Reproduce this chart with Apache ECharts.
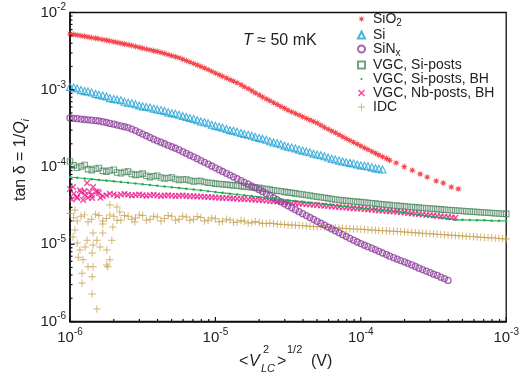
<!DOCTYPE html>
<html><head><meta charset="utf-8">
<script src="https://cdn.jsdelivr.net/npm/echarts@6/dist/echarts.min.js"></script>
<style>html,body{margin:0;padding:0;background:#fff}#c{width:522px;height:379px}</style>
</head><body><div id="c"></div>
<script>
// ---- data ----
// rms voltage grid (V), 40 points per decade
const vGrid = [
1.00e-6,1.06e-6,1.12e-6,1.19e-6,1.26e-6,1.33e-6,1.41e-6,1.50e-6,1.58e-6,1.68e-6,1.78e-6,1.88e-6,2.00e-6,2.11e-6,2.24e-6,2.37e-6,2.51e-6,2.66e-6,2.82e-6,2.99e-6,
3.16e-6,3.35e-6,3.55e-6,3.76e-6,3.98e-6,4.22e-6,4.47e-6,4.73e-6,5.01e-6,5.31e-6,5.62e-6,5.96e-6,6.31e-6,6.68e-6,7.08e-6,7.50e-6,7.94e-6,8.41e-6,8.91e-6,9.44e-6,
1.00e-5,1.06e-5,1.12e-5,1.19e-5,1.26e-5,1.33e-5,1.41e-5,1.50e-5,1.58e-5,1.68e-5,1.78e-5,1.88e-5,2.00e-5,2.11e-5,2.24e-5,2.37e-5,2.51e-5,2.66e-5,2.82e-5,2.99e-5,
3.16e-5,3.35e-5,3.55e-5,3.76e-5,3.98e-5,4.22e-5,4.47e-5,4.73e-5,5.01e-5,5.31e-5,5.62e-5,5.96e-5,6.31e-5,6.68e-5,7.08e-5,7.50e-5,7.94e-5,8.41e-5,8.91e-5,9.44e-5,
1.00e-4,1.06e-4,1.12e-4,1.19e-4,1.26e-4,1.33e-4,1.41e-4,1.50e-4,1.58e-4,1.68e-4,1.78e-4,1.88e-4,2.00e-4,2.11e-4,2.24e-4,2.37e-4,2.51e-4,2.66e-4,2.82e-4,2.99e-4,
3.16e-4,3.35e-4,3.55e-4,3.76e-4,3.98e-4,4.22e-4,4.47e-4,4.73e-4,5.01e-4,5.31e-4,5.62e-4,5.96e-4,6.31e-4,6.68e-4,7.08e-4,7.50e-4,7.94e-4,8.41e-4,8.91e-4,9.44e-4,
1.00e-3];

const sio2Y = [
5.27e-3,5.18e-3,5.09e-3,5.00e-3,4.91e-3,4.82e-3,4.73e-3,4.64e-3,4.56e-3,4.46e-3,
4.37e-3,4.27e-3,4.18e-3,4.09e-3,4.00e-3,3.91e-3,3.83e-3,3.73e-3,3.63e-3,3.54e-3,
3.45e-3,3.36e-3,3.28e-3,3.20e-3,3.12e-3,3.03e-3,2.95e-3,2.85e-3,2.76e-3,2.67e-3,
2.59e-3,2.48e-3,2.38e-3,2.28e-3,2.18e-3,2.09e-3,2.00e-3,1.91e-3,1.82e-3,1.73e-3,
1.64e-3,1.56e-3,1.49e-3,1.42e-3,1.35e-3,1.29e-3,1.23e-3,1.16e-3,1.09e-3,1.03e-3,
9.7e-4,9.1e-4,8.55e-4,8.06e-4,7.6e-4,7.19e-4,6.8e-4,6.43e-4,6.08e-4,5.75e-4,
5.43e-4,5.17e-4,4.92e-4,4.69e-4,4.48e-4,4.26e-4,4.06e-4,3.88e-4,3.71e-4,3.48e-4,
3.27e-4,3.09e-4,2.92e-4,2.77e-4,2.62e-4,2.47e-4,2.33e-4,2.21e-4,2.09e-4,1.98e-4,
1.87e-4,1.77e-4,1.68e-4,1.59e-4,1.51e-4,1.43e-4,1.36e-4,1.29e-4,1.22e-4];
const sio2TailX = [1.75e-4,1.99e-4,2.26e-4,2.56e-4,2.86e-4,3.30e-4,3.69e-4,4.19e-4,4.68e-4];
const sio2TailY = [1.13e-4,1.01e-4,9.1e-5,8.1e-5,7.4e-5,6.6e-5,6.2e-5,5.5e-5,5.2e-5];

const siY = [
1.09e-3,1.07e-3,1.04e-3,9.9e-4,9.6e-4,9.5e-4,9.2e-4,8.8e-4,8.6e-4,8.4e-4,
8.2e-4,7.8e-4,7.6e-4,7.5e-4,7.3e-4,7.0e-4,6.8e-4,6.7e-4,6.5e-4,6.25e-4,
6.1e-4,6.0e-4,5.9e-4,5.7e-4,5.55e-4,5.45e-4,5.3e-4,5.1e-4,4.98e-4,4.9e-4,
4.75e-4,4.58e-4,4.43e-4,4.32e-4,4.18e-4,4.02e-4,3.89e-4,3.80e-4,3.68e-4,3.53e-4,
3.41e-4,3.33e-4,3.23e-4,3.10e-4,3.00e-4,2.94e-4,2.86e-4,2.75e-4,2.67e-4,2.61e-4,
2.54e-4,2.44e-4,2.37e-4,2.32e-4,2.25e-4,2.15e-4,2.08e-4,2.03e-4,1.97e-4,1.89e-4,
1.83e-4,1.79e-4,1.74e-4,1.68e-4,1.63e-4,1.59e-4,1.55e-4,1.49e-4,1.45e-4,1.42e-4,
1.38e-4,1.33e-4,1.28e-4,1.25e-4,1.21e-4,1.18e-4,1.15e-4,1.13e-4,1.11e-4,1.08e-4,
1.05e-4,1.04e-4,1.02e-4,9.9e-5,9.6e-5,9.5e-5,9.3e-5];

const sinxY = [
4.31e-4,4.27e-4,4.22e-4,4.17e-4,4.12e-4,4.08e-4,4.04e-4,3.99e-4,3.94e-4,3.85e-4,
3.77e-4,3.67e-4,3.58e-4,3.49e-4,3.40e-4,3.32e-4,3.24e-4,3.10e-4,2.96e-4,2.81e-4,
2.67e-4,2.54e-4,2.41e-4,2.29e-4,2.18e-4,2.09e-4,2.00e-4,1.91e-4,1.83e-4,1.75e-4,
1.67e-4,1.58e-4,1.50e-4,1.42e-4,1.35e-4,1.28e-4,1.21e-4,1.15e-4,1.09e-4,1.03e-4,
9.75e-5,9.24e-5,8.75e-5,8.29e-5,7.85e-5,7.44e-5,7.05e-5,6.68e-5,6.32e-5,5.99e-5,
5.67e-5,5.37e-5,5.08e-5,4.79e-5,4.51e-5,4.25e-5,4.00e-5,3.77e-5,3.55e-5,3.34e-5,
3.15e-5,2.97e-5,2.80e-5,2.64e-5,2.49e-5,2.35e-5,2.22e-5,2.10e-5,1.98e-5,1.87e-5,
1.77e-5,1.67e-5,1.58e-5,1.49e-5,1.41e-5,1.33e-5,1.26e-5,1.19e-5,1.13e-5,1.07e-5,
1.02e-5,9.7e-6,9.3e-6,8.9e-6,8.5e-6,8.1e-6,7.7e-6,7.35e-6,7.0e-6,6.7e-6,
6.4e-6,6.15e-6,5.9e-6,5.65e-6,5.4e-6,5.15e-6,4.9e-6,4.7e-6,4.5e-6,4.3e-6,
4.1e-6,3.95e-6,3.75e-6,3.6e-6,3.4e-6];

const vgcY = [
1.18e-4,1.05e-4,9.8e-5,1.02e-4,1.06e-4,9.4e-5,9.1e-5,9.5e-5,9.7e-5,8.9e-5,
8.7e-5,9.0e-5,9.2e-5,8.5e-5,8.3e-5,8.6e-5,8.7e-5,8.1e-5,7.9e-5,8.0e-5,
8.2e-5,7.7e-5,7.4e-5,7.6e-5,7.7e-5,7.3e-5,7.1e-5,7.2e-5,7.3e-5,7.0e-5,
6.8e-5,6.9e-5,6.9e-5,6.7e-5,6.5e-5,6.6e-5,6.6e-5,6.4e-5,6.25e-5,6.2e-5,
6.1e-5,6.03e-5,5.97e-5,5.91e-5,5.85e-5,5.78e-5,5.72e-5,5.66e-5,5.6e-5,5.53e-5,
5.47e-5,5.41e-5,5.36e-5,5.27e-5,5.18e-5,5.09e-5,5.01e-5,4.93e-5,4.85e-5,4.77e-5,
4.70e-5,4.62e-5,4.55e-5,4.48e-5,4.41e-5,4.34e-5,4.27e-5,4.19e-5,4.12e-5,4.05e-5,
3.99e-5,3.92e-5,3.86e-5,3.80e-5,3.74e-5,3.70e-5,3.66e-5,3.62e-5,3.58e-5,3.54e-5,
3.51e-5,3.47e-5,3.43e-5,3.39e-5,3.36e-5,3.32e-5,3.28e-5,3.24e-5,3.21e-5,3.18e-5,
3.15e-5,3.12e-5,3.09e-5,3.06e-5,3.03e-5,3.00e-5,2.98e-5,2.95e-5,2.93e-5,2.90e-5,
2.88e-5,2.85e-5,2.83e-5,2.80e-5,2.78e-5,2.76e-5,2.74e-5,2.72e-5,2.70e-5,2.68e-5,
2.66e-5,2.64e-5,2.62e-5,2.60e-5,2.58e-5,2.56e-5,2.54e-5,2.52e-5,2.50e-5,2.48e-5,
2.47e-5];

// VGC Si-posts BH: one value every second grid voltage
const vgcBhY = [
7.43e-5,7.27e-5,7.11e-5,6.96e-5,6.81e-5,6.67e-5,6.52e-5,6.38e-5,6.24e-5,6.11e-5,
5.97e-5,5.85e-5,5.72e-5,5.60e-5,5.47e-5,5.36e-5,5.24e-5,5.12e-5,4.99e-5,4.86e-5,
4.75e-5,4.63e-5,4.52e-5,4.41e-5,4.31e-5,4.20e-5,4.10e-5,4.00e-5,3.90e-5,3.81e-5,
3.72e-5,3.63e-5,3.54e-5,3.45e-5,3.37e-5,3.29e-5,3.21e-5,3.13e-5,3.06e-5,2.99e-5,
2.93e-5,2.86e-5,2.81e-5,2.74e-5,2.69e-5,2.63e-5,2.56e-5,2.48e-5,2.41e-5,2.34e-5,
2.27e-5,2.20e-5,2.14e-5,2.07e-5,2.07e-5,2.06e-5,2.05e-5,2.04e-5,2.02e-5,2.01e-5,
2.00e-5];

const nbY = [
5.2e-5,4.5e-5,4.1e-5,4.7e-5,4.9e-5,4.0e-5,4.3e-5,4.8e-5,4.6e-5,4.2e-5,
4.3e-5,4.5e-5,4.42e-5,4.25e-5,4.39e-5,4.48e-5,4.36e-5,4.28e-5,4.34e-5,4.41e-5,
4.32e-5,4.24e-5,4.31e-5,4.36e-5,4.29e-5,4.22e-5,4.27e-5,4.32e-5,4.26e-5,4.20e-5,
4.24e-5,4.27e-5,4.22e-5,4.19e-5,4.19e-5,4.16e-5,4.14e-5,4.12e-5,4.09e-5,4.07e-5,
4.04e-5,4.01e-5,3.98e-5,3.96e-5,3.94e-5,3.91e-5,3.89e-5,3.86e-5,3.84e-5,3.81e-5,
3.79e-5,3.77e-5,3.75e-5,3.71e-5,3.67e-5,3.63e-5,3.60e-5,3.57e-5,3.54e-5,3.50e-5,
3.47e-5,3.43e-5,3.40e-5,3.37e-5,3.34e-5,3.30e-5,3.27e-5,3.24e-5,3.21e-5,3.18e-5,
3.15e-5,3.12e-5,3.09e-5,3.06e-5,3.03e-5,3.00e-5,2.98e-5,2.95e-5,2.93e-5,2.90e-5,
2.88e-5,2.85e-5,2.82e-5,2.80e-5,2.77e-5,2.74e-5,2.72e-5,2.70e-5,2.68e-5,2.65e-5,
2.63e-5,2.60e-5,2.57e-5,2.54e-5,2.51e-5,2.48e-5,2.46e-5,2.43e-5,2.40e-5,2.37e-5,
2.35e-5,2.32e-5,2.30e-5,2.27e-5,2.25e-5,2.22e-5,2.20e-5];
const nbLowX = [1.05e-6,1.17e-6,1.31e-6,1.37e-6,1.12e-6,1.23e-6,1.42e-6,1.44e-6,1.27e-6,1.03e-6,1.55e-6,1.62e-6];
const nbLowY = [5.5e-5,5.0e-5,6.2e-5,4.75e-5,3.97e-5,3.74e-5,3.97e-5,5.5e-5,4.35e-5,3.8e-5,4.8e-5,4.0e-5];

const idcY = [
2.5e-5,2.2e-5,2.0e-5,2.3e-5,2.4e-5,1.95e-5,2.1e-5,2.45e-5,2.35e-5,2.0e-5,
2.15e-5,2.4e-5,2.3e-5,2.05e-5,2.05e-5,2.35e-5,2.3e-5,2.1e-5,2.2e-5,2.4e-5,
2.35e-5,2.05e-5,2.1e-5,2.3e-5,2.25e-5,2.0e-5,2.15e-5,2.35e-5,2.3e-5,2.05e-5,
2.1e-5,2.3e-5,2.25e-5,2.05e-5,2.1e-5,2.28e-5,2.22e-5,2.0e-5,2.05e-5,2.18e-5,
2.14e-5,1.95e-5,1.98e-5,2.1e-5,2.06e-5,1.92e-5,1.94e-5,2.03e-5,1.99e-5,1.88e-5,
1.9e-5,1.97e-5,1.92e-5,1.86e-5,1.85e-5,1.89e-5,1.85e-5,1.82e-5,1.81e-5,1.80e-5,
1.78e-5,1.77e-5,1.76e-5,1.75e-5,1.73e-5,1.72e-5,1.71e-5,1.70e-5,1.69e-5,1.68e-5,
1.67e-5,1.65e-5,1.64e-5,1.63e-5,1.62e-5,1.61e-5,1.60e-5,1.59e-5,1.58e-5,1.57e-5,
1.56e-5,1.55e-5,1.54e-5,1.53e-5,1.52e-5,1.51e-5,1.50e-5,1.49e-5,1.48e-5,1.47e-5,
1.46e-5,1.45e-5,1.44e-5,1.43e-5,1.42e-5,1.41e-5,1.40e-5,1.39e-5,1.38e-5,1.37e-5,
1.36e-5,1.35e-5,1.34e-5,1.33e-5,1.32e-5,1.31e-5,1.30e-5,1.29e-5,1.28e-5,1.27e-5,
1.26e-5,1.25e-5,1.24e-5,1.23e-5,1.22e-5,1.21e-5,1.21e-5,1.20e-5,1.19e-5,1.18e-5,
1.17e-5];
const idcLowX = [1.05e-6,1.08e-6,1.12e-6,1.17e-6,1.14e-6,1.23e-6,1.27e-6,1.31e-6,1.33e-6,1.21e-6,
1.21e-6,1.42e-6,1.44e-6,1.44e-6,1.42e-6,1.42e-6,1.53e-6,1.53e-6,1.61e-6,1.68e-6,
1.79e-6,1.79e-6,1.88e-6,1.82e-6,1.94e-6,1.97e-6,1.44e-6,1.88e-6,2.10e-6,1.08e-6,
2.20e-6,2.79e-6,1.68e-6];
const idcLowY = [1.24e-5,1.53e-5,1.04e-5,8.4e-6,6.8e-6,6.3e-6,9.2e-6,1.13e-5,5.1e-6,4.2e-6,
3.15e-6,7.7e-6,9.8e-6,5.1e-6,3.8e-6,2.27e-6,1.13e-5,1.45e-6,9.2e-6,1.40e-5,
8.4e-6,5.4e-6,6.3e-6,5.1e-6,1.13e-5,1.67e-5,1.40e-5,3.22e-5,3.03e-5,2.77e-5,
2.61e-5,1.94e-5,1.83e-5];

const xMajor = [1e-6,1e-5,1e-4,1e-3];
const yMajor = [1e-6,1e-5,1e-4,1e-3,1e-2];
const legendNames = ['SiO2','Si','SiNx','VGC, Si-posts','VGC, Si-posts, BH','VGC, Nb-posts, BH','IDC'];

// ---- helpers / styling ----
const FONT = '"Liberation Sans", Arial, sans-serif';
const TXT = '#222';
const AX = '#111';
function pairs(xs, ys){ return ys.map((y,i)=>[xs[i], y]); }
function minorTicks(lo, hi){ const out=[]; for(let e=lo;e<hi;e++){ for(let m=2;m<=9;m++){ out.push(m*Math.pow(10,e)); } } return out; }
const vGridHalf = vGrid.filter((v,i)=>i%2===0);
const C = {red:'#ef2027', cyan:'#1ba1d4', purple:'#8e3f9c', sq:'#4d8a62', green:'#1fae4e', mag:'#ec1b8c', tan:'#c6a050'};
const starPath = 'path://M0,-10L1.6,-3.9L7.07,-7.07L3.9,-1.6L10,0L3.9,1.6L7.07,7.07L1.6,3.9L0,10L-1.6,3.9L-7.07,7.07L-3.9,1.6L-10,0L-3.9,-1.6L-7.07,-7.07L-1.6,-3.9Z';
const crossPath = 'path://M-10,-7L-7,-10L0,-3L7,-10L10,-7L3,0L10,7L7,10L0,3L-7,10L-10,7L-3,0Z';
const plusPath = 'path://M-1.3,-10H1.3V-1.3H10V1.3H1.3V10H-1.3V1.3H-10V-1.3H-1.3Z';
const dotIcon = 'path://M-10,-10M10,10M-3,0A3,3,0,1,0,3,0A3,3,0,1,0,-3,0Z';

const expLabel = v => '{b|10}{s|' + Math.round(Math.log10(v)) + '}';
const labelRich = {
  b:{fontSize:15, lineHeight:20, fontFamily:FONT, color:TXT},
  s:{fontSize:10, lineHeight:10, verticalAlign:'top', fontFamily:FONT, color:TXT}
};

// tick marks drawn through the axes' own scales
const xTickData = xMajor.map(v=>[v, 1e-6, 4.5]).concat(minorTicks(-6,-3).map(v=>[v, 1e-6, 2.5]));
const yTickData = yMajor.map(v=>[1e-6, v, 4.5]).concat(minorTicks(-6,-2).map(v=>[1e-6, v, 2.5]));
function xTickItem(params, api){
  const p = api.coord([api.value(0), api.value(1)]);
  const len = api.value(2);
  return {type:'line', shape:{x1:p[0], y1:p[1], x2:p[0], y2:p[1]-len}, style:{stroke:AX, lineWidth:1.2}};
}
function yTickItem(params, api){
  const p = api.coord([api.value(0), api.value(1)]);
  const len = api.value(2);
  return {type:'line', shape:{x1:p[0], y1:p[1], x2:p[0]+len, y2:p[1]}, style:{stroke:AX, lineWidth:1.2}};
}

const chart = echarts.init(document.getElementById('c'), null, {renderer:'canvas'});
chart.setOption({
  animation:false,
  backgroundColor:'#fff',
  grid:{left:70, right:15, top:12.5, bottom:57.5, show:true, borderColor:AX, borderWidth:1.3, backgroundColor:'transparent'},
  xAxis:{type:'log', logBase:10, min:1e-6, max:1e-3, splitLine:{show:false},
    axisLine:{show:true, lineStyle:{color:AX, width:1.6}},
    axisTick:{show:false},
    axisLabel:{show:true, formatter:expLabel, rich:labelRich, margin:6, showMinLabel:true, showMaxLabel:true}},
  yAxis:{type:'log', logBase:10, min:1e-6, max:1e-2, splitLine:{show:false},
    axisLine:{show:true, lineStyle:{color:AX, width:1.6}},
    axisTick:{show:false},
    axisLabel:{show:true, formatter:expLabel, rich:labelRich, margin:4, showMinLabel:true, showMaxLabel:true}},
  legend:{
    orient:'vertical', left:357, top:12, padding:0, itemGap:0, itemWidth:7, itemHeight:7,
    data:legendNames.map(n => n==='VGC, Si-posts, BH' ? {name:n, icon:dotIcon} : {name:n}),
    formatter: n => n==='SiO2' ? '{n|SiO}{sb|2}' : (n==='SiNx' ? '{n|SiN}{sb|x}' : '{n|' + n + '}'),
    textStyle:{fontFamily:FONT, fontSize:14, color:TXT, rich:{
      n:{fontSize:14, lineHeight:18, fontFamily:FONT, color:TXT, padding:[0,0,0,3]},
      sb:{fontSize:10, lineHeight:10, verticalAlign:'bottom', fontFamily:FONT, color:TXT}}}
  },
  graphic:[
    {type:'text', left:243, top:33, style:{text:'{it|T} ≈ 50 mK', fontSize:16, fontFamily:FONT, fill:TXT,
      rich:{it:{fontStyle:'italic', fontSize:16, fontFamily:FONT, fill:TXT}}}},
    {type:'text', x:21, y:160, rotation:Math.PI/2, style:{text:'tan δ = 1/{it|Q}{sb|i}', fontSize:16, lineHeight:20, fontFamily:FONT, fill:TXT, align:'center', verticalAlign:'middle',
      rich:{it:{fontStyle:'italic', fontSize:16, lineHeight:20, fontFamily:FONT, fill:TXT}, sb:{fontStyle:'italic', fontSize:11, lineHeight:11, verticalAlign:'bottom', fontFamily:FONT, fill:TXT}}}},
    {type:'text', x:239, y:362, style:{text:'<', fontSize:16, fontFamily:FONT, fill:TXT, verticalAlign:'middle'}},
    {type:'text', x:249, y:362, style:{text:'V', fontSize:16, fontStyle:'italic', fontFamily:FONT, fill:TXT, verticalAlign:'middle'}},
    {type:'text', x:261, y:369, style:{text:'LC', fontSize:11, fontStyle:'italic', fontFamily:FONT, fill:TXT, verticalAlign:'middle'}},
    {type:'text', x:263, y:350, style:{text:'2', fontSize:11, fontFamily:FONT, fill:TXT, verticalAlign:'middle'}},
    {type:'text', x:277, y:362, style:{text:'>', fontSize:16, fontFamily:FONT, fill:TXT, verticalAlign:'middle'}},
    {type:'text', x:287, y:350, style:{text:'1/2', fontSize:11, fontFamily:FONT, fill:TXT, verticalAlign:'middle'}},
    {type:'text', x:311, y:362, style:{text:'(V)', fontSize:16, fontFamily:FONT, fill:TXT, verticalAlign:'middle'}}
  ],
  series:[
    {name:'VGC, Si-posts, BH', type:'line', data:pairs(vGridHalf, vgcBhY), symbol:'circle', symbolSize:2.5, showAllSymbol:true,
      lineStyle:{width:1.1, color:C.green}, itemStyle:{color:C.green}},
    {name:'VGC, Si-posts', type:'scatter', data:pairs(vGrid, vgcY), symbol:'rect', symbolSize:5.5,
      itemStyle:{color:'rgba(0,0,0,0)', borderColor:C.sq, borderWidth:1.1}},
    {name:'VGC, Nb-posts, BH', type:'scatter', data:pairs(vGrid, nbY).concat(pairs(nbLowX, nbLowY)), symbol:crossPath, symbolSize:6.5,
      itemStyle:{color:C.mag}},
    {name:'IDC', type:'scatter', data:pairs(vGrid, idcY).concat(pairs(idcLowX, idcLowY)), symbol:plusPath, symbolSize:7.5,
      itemStyle:{color:C.tan}},
    {name:'Si', type:'scatter', data:pairs(vGrid, siY), symbol:'triangle', symbolSize:7,
      itemStyle:{color:'rgba(0,0,0,0)', borderColor:C.cyan, borderWidth:1.1}},
    {name:'SiO2', type:'scatter', data:pairs(vGrid, sio2Y).concat(pairs(sio2TailX, sio2TailY)), symbol:starPath, symbolSize:7.5,
      itemStyle:{color:C.red}},
    {name:'SiNx', type:'scatter', data:pairs(vGrid, sinxY), symbol:'circle', symbolSize:6,
      itemStyle:{color:'rgba(0,0,0,0)', borderColor:C.purple, borderWidth:1.3}},
    {name:'xTicks', type:'custom', data:xTickData, renderItem:xTickItem, encode:{x:0, y:1}, silent:true, clip:false, z:10},
    {name:'yTicks', type:'custom', data:yTickData, renderItem:yTickItem, encode:{x:0, y:1}, silent:true, clip:false, z:10}
  ]
});
</script></body></html>
